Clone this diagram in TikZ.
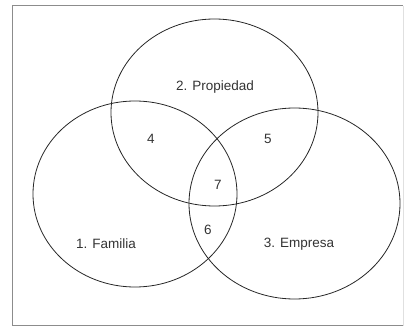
\documentclass[tikz,border=0pt]{standalone}
\usepackage{fontspec}
\setmainfont{Liberation Sans}
\begin{document}
\begin{tikzpicture}[x=1pt,y=-1pt,
  venn/.style={draw=black!85, line width=0.8pt},
  lbl/.style={font=\fontsize{13.5}{15}\selectfont, text=black!80, inner sep=0pt},
  frame/.style={draw=black!45, line width=1pt}]
\useasboundingbox (0,0) rectangle (408,329);
\draw[frame] (403,6) -- (12.5,6) -- (12.5,326) -- (403,326);
\draw[draw=black!12, line width=0.8pt] (403,6) -- (403,326);
\draw[venn] (214.5,112.5) ellipse [x radius=103.5, y radius=93.5];
\draw[venn] (135,194) ellipse [x radius=102, y radius=93];
\draw[venn] (294.5,203.5) ellipse [x radius=105.5, y radius=95.5];
\node[lbl] (p) at (215,87) {2. Propiedad};
\node[lbl] (f) at (106,244) {1. Familia};
\node[lbl] (e) at (299,244) {3. Empresa};
\node[lbl] (n4) at (151,139) {4};
\node[lbl] (n5) at (268,139) {5};
\node[lbl] (n7) at (218,185) {7};
\node[lbl] (n6) at (208,230) {6};
\end{tikzpicture}
\end{document}
